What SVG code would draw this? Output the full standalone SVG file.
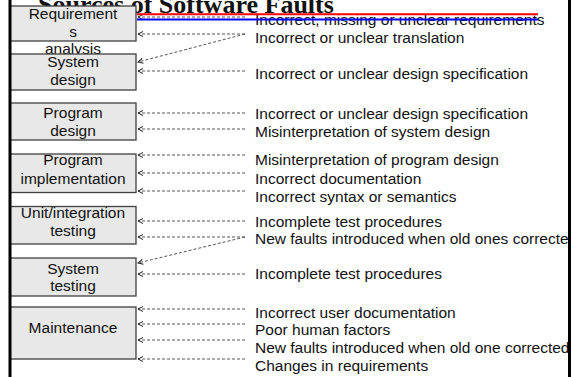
<svg xmlns="http://www.w3.org/2000/svg" width="581" height="377" viewBox="0 0 581 377">
<style>
.box rect{fill:#e8e8e8;stroke:#404040;stroke-width:1.3}
.box text{font-family:"Liberation Sans",Arial,sans-serif;font-size:15.5px;fill:#111;text-anchor:middle}
.lbl{font-family:"Liberation Sans",Arial,sans-serif;font-size:15.5px;fill:#111}
.title{font-family:"Liberation Serif","Times New Roman",serif;font-size:26px;font-weight:bold;fill:#111}
#connectors line{stroke:#555;stroke-width:1;stroke-dasharray:3,2;marker-end:url(#ah)}
</style>
<defs>
<marker id="ah" markerUnits="userSpaceOnUse" markerWidth="8" markerHeight="8" refX="5" refY="2.5" orient="auto" overflow="visible">
<path d="M0,0 L5,2.5 L0,5" fill="none" stroke="#222" stroke-width="1"/>
</marker>
<clipPath id="clipR"><rect x="0" y="0" width="568" height="377"/></clipPath>
</defs>
<rect width="581" height="377" fill="#fff"/>
<text class="title" x="38" y="13">Sources of Software Faults</text>
<g id="labels" clip-path="url(#clipR)">
<text class="lbl" x="255" y="25">Incorrect, missing or unclear requirements</text>
<text class="lbl" x="255" y="43">Incorrect or unclear translation</text>
<text class="lbl" x="255" y="79">Incorrect or unclear design specification</text>
<text class="lbl" x="255" y="119">Incorrect or unclear design specification</text>
<text class="lbl" x="255" y="137">Misinterpretation of system design</text>
<text class="lbl" x="255" y="165">Misinterpretation of program design</text>
<text class="lbl" x="255" y="184">Incorrect documentation</text>
<text class="lbl" x="255" y="202">Incorrect syntax or semantics</text>
<text class="lbl" x="255" y="227">Incomplete test procedures</text>
<text class="lbl" x="255" y="244">New faults introduced when old ones corrected</text>
<text class="lbl" x="255" y="279">Incomplete test procedures</text>
<text class="lbl" x="255" y="318">Incorrect user documentation</text>
<text class="lbl" x="255" y="335">Poor human factors</text>
<text class="lbl" x="255" y="353">New faults introduced when old one corrected</text>
<text class="lbl" x="255" y="371">Changes in requirements</text>
</g>
<g id="n-req" class="box">
<rect x="10" y="6" width="126" height="35"/>
<text x="73" y="19">Requirement</text>
<text x="73" y="36.5">s</text>
<text x="73" y="54">analysis</text>
</g>
<g id="n-sysdes" class="box">
<rect x="10" y="54" width="126" height="36"/>
<text x="73" y="67">System</text>
<text x="73" y="85">design</text>
</g>
<g id="n-progdes" class="box">
<rect x="10" y="103" width="126" height="37"/>
<text x="73" y="118">Program</text>
<text x="73" y="136">design</text>
</g>
<g id="n-impl" class="box">
<rect x="10" y="154" width="126" height="38.5"/>
<text x="73" y="165">Program</text>
<text x="73" y="184">implementation</text>
</g>
<g id="n-unit" class="box">
<rect x="10" y="206.5" width="126" height="37.5"/>
<text x="73" y="217.5">Unit/integration</text>
<text x="73" y="236">testing</text>
</g>
<g id="n-systest" class="box">
<rect x="10" y="258" width="126" height="38"/>
<text x="73" y="274">System</text>
<text x="73" y="291">testing</text>
</g>
<g id="n-maint" class="box">
<rect x="10" y="307" width="126" height="52"/>
<text x="73" y="333">Maintenance</text>
</g>
<g id="connectors">
<line x1="245" y1="17" x2="138" y2="17"/>
<line x1="245" y1="34" x2="138" y2="34"/>
<line x1="245" y1="34" x2="138" y2="62"/>
<line x1="245" y1="71" x2="138" y2="71"/>
<line x1="245" y1="113" x2="138" y2="113"/>
<line x1="245" y1="129" x2="138" y2="129"/>
<line x1="245" y1="155" x2="138" y2="155"/>
<line x1="245" y1="173" x2="138" y2="173"/>
<line x1="245" y1="191" x2="138" y2="191"/>
<line x1="245" y1="221" x2="138" y2="221"/>
<line x1="245" y1="237" x2="138" y2="237"/>
<line x1="245" y1="237" x2="138" y2="263"/>
<line x1="245" y1="274" x2="138" y2="274"/>
<line x1="245" y1="309" x2="138" y2="309"/>
<line x1="245" y1="324" x2="138" y2="324"/>
<line x1="245" y1="340" x2="138" y2="340"/>
<line x1="245" y1="359" x2="138" y2="359"/>
</g>
<line x1="137" y1="14.3" x2="538" y2="14.3" stroke="#ff0000" stroke-width="2"/>
<line x1="137" y1="19.5" x2="538" y2="19.5" stroke="#0000ff" stroke-width="2"/>
<rect x="8.5" y="0" width="3" height="377" fill="#000"/>
<rect x="568" y="0" width="3" height="377" fill="#000"/>
</svg>
